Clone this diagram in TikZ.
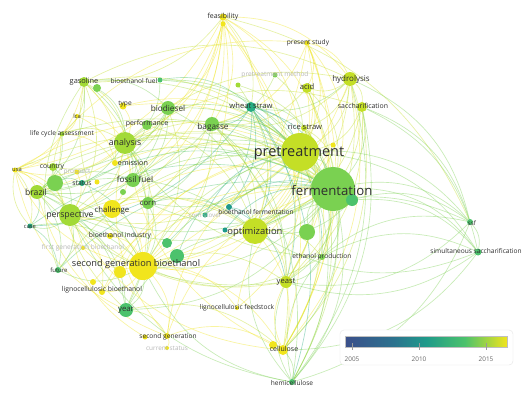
\documentclass[tikz,border=0pt]{standalone}
\usepackage{fontspec}
\setmainfont{Open Sans}
\usetikzlibrary{positioning}
\definecolor{vyel}{HTML}{F1E51D}
\definecolor{vlime}{HTML}{C4DF26}
\definecolor{vlgrn}{HTML}{A2DA37}
\definecolor{vgrn}{HTML}{7AD151}
\definecolor{vmgrn}{HTML}{4CC26C}
\definecolor{vteal}{HTML}{26AD81}
\definecolor{vdteal}{HTML}{1F9A8A}
\definecolor{vdark}{HTML}{3B4F8A}
\definecolor{vblue}{HTML}{2C728E}
\pgfdeclarehorizontalshading{viridisbar}{100bp}{color(0bp)=(vdark); color(25bp)=(vdark); color(40bp)=(vblue); color(50bp)=(vdteal); color(62bp)=(vmgrn); color(75bp)=(vyel); color(100bp)=(vyel)}
\pgfdeclarelayer{paper}
\pgfdeclarelayer{links}
\pgfsetlayers{paper,links,main}

\begin{document}
\begin{tikzpicture}[
  x=1pt, y=-1pt,
  kw/.style={circle, inner sep=0pt, minimum size=#1, draw=none},
  lbl/.style={inner sep=0pt, text=black!82, font=\fontsize{#1}{#1}\selectfont},
  dim/.style={text=black!28},
  link/.style={draw=#1, opacity=.42, line width=.65pt}
]
\begin{pgfonlayer}{paper}
\fill[white] (0,0) rectangle (524,396);
\end{pgfonlayer}
\useasboundingbox (0,0) rectangle (524,396);

% --- keyword circles -----------------------------------------------------
\node[kw=7pt,  fill=vyel]   (feas)      at (223,17)  {};
\node[kw=5pt,  fill=vyel]   (feasb)     at (223,24)  {};
\node[kw=5pt,  fill=vyel]   (pstudy)    at (307,43)  {};
\node[kw=5pt,  fill=vgrn]   (pmeth)     at (275,75)  {};
\node[kw=5pt,  fill=vlgrn]  (mnode)     at (238,85)  {};
\node[kw=14pt, fill=vlime]  (hydro)     at (350,79)  {};
\node[kw=10pt, fill=vlime]  (acid)      at (307,88)  {};
\node[kw=10pt, fill=vlime]  (sacch)     at (362,107) {};
\node[kw=10pt, fill=vlgrn]  (gasol)     at (84,82)   {};
\node[kw=8pt,  fill=vgrn]   (gasolb)    at (97,88)   {};
\node[kw=5pt,  fill=vmgrn]  (biofuel)   at (160,80)  {};
\node[kw=7pt,  fill=vyel]   (type)      at (123,106) {};
\node[kw=14pt, fill=vgrn]   (biodsl)    at (168,108) {};
\node[kw=4pt,  fill=vyel]   (lca)       at (77,116)  {};
\node[kw=10pt, fill=vgrn]   (perf)      at (147,125) {};
\node[kw=5pt,  fill=vlgrn]  (lcassess)  at (62,134)  {};
\node[kw=10pt, fill=vteal]  (wheat)     at (251,107) {};
\node[kw=14pt, fill=vgrn]   (bagasse)   at (212,124) {};
\node[kw=6pt,  fill=vlime]  (rice)      at (304,128) {};
\node[kw=22pt, fill=vlgrn]  (analysis)  at (125,143) {};
\node[kw=38pt, fill=vlime]  (pretr)     at (300,152) {};
\node[kw=5pt,  fill=vyel]   (pyel)      at (333,145) {};
\node[kw=44pt, fill=vgrn]   (ferm)      at (333,189) {};
\node[kw=12pt, fill=vmgrn]  (fermb)     at (352,200) {};
\node[kw=6pt,  fill=vyel]   (emission)  at (115,163) {};
\node[kw=5pt,  fill=vyel]   (usa)       at (15,170)  {};
\node[kw=8pt,  fill=vlgrn]  (country)   at (53,167)  {};
\node[kw=5pt,  fill=vyel]   (prospect)  at (77,172)  {};
\node[kw=6pt,  fill=vteal]  (status)    at (82,183)  {};
\node[kw=5pt,  fill=vyel]   (statb)     at (97,182)  {};
\node[kw=14pt, fill=vgrn]   (fossil)    at (133,180) {};
\node[kw=16pt, fill=vgrn]   (brazilb)   at (55,183)  {};
\node[kw=14pt, fill=vlgrn]  (brazil)    at (37,192)  {};
\node[kw=6pt,  fill=vgrn]   (fossb)     at (123,192) {};
\node[kw=12pt, fill=vgrn]   (corn)      at (148,203) {};
\node[kw=18pt, fill=vyel]   (challenge) at (112,209) {};
\node[kw=22pt, fill=vlgrn]  (persp)     at (70,215)  {};
\node[kw=5pt,  fill=vteal]  (case)      at (30,226)  {};
\node[kw=5pt,  fill=vteal]  (stover)    at (205,215) {};
\node[kw=6pt,  fill=vdteal] (biofer)    at (229,207) {};
\node[kw=5pt,  fill=vdteal] (mteal)     at (225,230) {};
\node[kw=26pt, fill=vlime]  (optim)     at (255,231) {};
\node[kw=16pt, fill=vgrn]   (optimb)    at (307,232) {};
\node[kw=6pt,  fill=vyel]   (bindus)    at (110,236) {};
\node[kw=10pt, fill=vmgrn]  (bindb)     at (167,243) {};
\node[kw=4pt,  fill=vyel]   (fgb)       at (83,248)  {};
\node[kw=14pt, fill=vmgrn]  (fgbb)      at (177,256) {};
\node[kw=28pt, fill=vyel]   (sgb)       at (143,266) {};
\node[kw=12pt, fill=vyel]   (sgbb)      at (120,272) {};
\node[kw=6pt,  fill=vgrn]   (ethprod)   at (322,257) {};
\node[kw=6pt,  fill=vmgrn]  (future)    at (58,270)  {};
\node[kw=6pt,  fill=vyel]   (lignob)    at (93,282)  {};
\node[kw=6pt,  fill=vyel]   (lignobio)  at (102,292) {};
\node[kw=12pt, fill=vlime]  (yeast)     at (286,282) {};
\node[kw=4pt,  fill=vyel]   (lignofeed) at (237,308) {};
\node[kw=14pt, fill=vmgrn]  (year)      at (126,310) {};
\node[kw=5pt,  fill=vyel]   (secgenb)   at (145,337) {};
\node[kw=6pt,  fill=vyel]   (secgen)    at (167,336) {};
\node[kw=4pt,  fill=vyel]   (curstat)   at (167,348) {};
\node[kw=8pt,  fill=vyel]   (cellb)     at (273,345) {};
\node[kw=10pt, fill=vyel]   (cellulose) at (283,350) {};
\node[kw=6pt,  fill=vmgrn]  (hemi)      at (292,382) {};
\node[kw=6pt,  fill=vmgrn]  (ssf)       at (470,222) {};
\node[kw=7pt,  fill=vmgrn]  (ssacch)    at (478,252) {};

% --- links ---------------------------------------------------------------
\begin{pgfonlayer}{links}
\foreach \a/\b/\c in {
  feas/analysis/vyel, feas/biodsl/vyel, feas/bagasse/vyel, feas/pretr/vyel, feas/ferm/vyel,
  feas/optim/vyel, feas/sgb/vyel, feas/hydro/vyel, feas/gasol/vlime, feas/persp/vyel,
  feas/wheat/vlime, feas/challenge/vyel, feas/ssf/vlime, feas/usa/vyel, feasb/brazil/vyel,
  feas/fossil/vyel, feas/corn/vyel, feasb/yeast/vyel, feasb/cellulose/vyel,
  pstudy/pretr/vyel, pstudy/ferm/vyel, pstudy/hydro/vyel, pstudy/acid/vyel, pstudy/bagasse/vyel,
  pstudy/optim/vyel, pstudy/sgb/vyel, pstudy/cellulose/vyel, pstudy/yeast/vyel,
  pmeth/pretr/vlgrn, pmeth/bagasse/vlgrn, mnode/ferm/vlgrn, mnode/optim/vlgrn,
  hydro/pretr/vlime, hydro/ferm/vlime, hydro/acid/vlime, hydro/sacch/vlime, hydro/wheat/vgrn,
  hydro/rice/vlime, hydro/bagasse/vlime, hydro/yeast/vlime, hydro/cellulose/vyel, hydro/sgb/vyel,
  hydro/optim/vlime, hydro/ssf/vgrn, hydro/hemi/vgrn, sacch/pretr/vlime, sacch/ferm/vgrn, sacch/ssf/vgrn,
  sacch/cellulose/vlime, sacch/hemi/vgrn, sacch/yeast/vlime, sacch/optim/vlime, sacch/ssacch/vgrn,
  acid/pretr/vlime, acid/ferm/vlime, acid/cellulose/vyel, acid/hemi/vlgrn,
  acid/optim/vyel, acid/bagasse/vlime, gasol/analysis/vlime, gasol/biodsl/vgrn, gasol/brazil/vgrn,
  gasol/persp/vlime, gasol/fossil/vgrn, gasol/emission/vyel, gasol/lcassess/vlime, gasol/usa/vyel,
  gasol/sgb/vlime, gasol/hydro/vlime, gasol/pretr/vlime, gasol/ferm/vlgrn,
  gasolb/analysis/vgrn, biofuel/analysis/vgrn, biofuel/wheat/vmgrn, biofuel/ferm/vgrn,
  biofuel/pretr/vgrn, type/analysis/vyel, type/ferm/vyel, type/pretr/vyel, biodsl/analysis/vgrn,
  biodsl/fossil/vgrn, biodsl/brazil/vgrn, biodsl/persp/vgrn, biodsl/sgb/vlime, biodsl/pretr/vgrn,
  biodsl/ferm/vgrn, biodsl/emission/vlime, biodsl/optim/vgrn, lca/lcassess/vyel, lca/emission/vyel, lca/analysis/vyel,
  perf/analysis/vgrn, perf/ferm/vgrn, perf/optim/vlime, lcassess/analysis/vlime, lcassess/emission/vyel,
  lcassess/brazil/vgrn, lcassess/usa/vyel, lcassess/pstudy/vyel, lcassess/ferm/vlgrn,
  wheat/ferm/vteal, wheat/pretr/vteal, wheat/biofer/vteal,
  wheat/stover/vteal, wheat/bagasse/vteal, wheat/rice/vgrn, wheat/yeast/vteal, wheat/optim/vteal,
  wheat/ethprod/vteal, wheat/hemi/vteal, wheat/case/vteal, bagasse/pretr/vgrn, bagasse/ferm/vgrn,
  bagasse/brazil/vgrn, bagasse/sgb/vlime, bagasse/optim/vlime, bagasse/yeast/vgrn, bagasse/corn/vgrn,
  bagasse/cellulose/vlime, bagasse/hemi/vgrn,
  rice/pretr/vlime, rice/ferm/vlime, rice/optim/vlime, rice/ethprod/vlime, rice/cellulose/vyel,
  rice/yeast/vlime, rice/hemi/vlgrn,
  analysis/pretr/vlime, analysis/ferm/vlime, analysis/sgb/vlime, analysis/persp/vlime, analysis/brazil/vgrn,
  analysis/usa/vyel, analysis/country/vlime, analysis/challenge/vyel, analysis/fossil/vgrn, analysis/corn/vgrn,
  analysis/year/vgrn, analysis/sacch/vlime, analysis/hydro/vlime,
  pretr/ferm/vgrn, pretr/optim/vlime, pretr/sgb/vlime, pretr/yeast/vlime,
  pretr/cellulose/vlime, pretr/hemi/vgrn, pretr/ethprod/vgrn, pretr/ssf/vgrn, pretr/ssacch/vgrn,
  pretr/corn/vgrn, pretr/persp/vlime, pretr/challenge/vyel, pretr/lignofeed/vyel, pyel/sgb/vyel,
  ferm/optim/vgrn, ferm/sgb/vgrn, ferm/yeast/vgrn, ferm/cellulose/vgrn, ferm/hemi/vgrn,
  ferm/ssf/vgrn, ferm/ssacch/vgrn, ferm/ethprod/vgrn, ferm/corn/vgrn, ferm/persp/vgrn,
  ferm/brazil/vgrn, ferm/year/vgrn, fermb/ssf/vgrn, fermb/ssacch/vgrn, fermb/optim/vgrn,
  usa/brazil/vyel, usa/country/vyel, usa/persp/vyel, usa/case/vlime, usa/fgb/vyel,
  usa/pretr/vyel, usa/ferm/vlime, year/usa/vyel, sgb/usa/vyel, future/gasol/vlgrn,
  persp/lcassess/vlime, case/usa/vlime, sgb/gasol/vlime, year/lcassess/vlime,
  country/brazil/vgrn, country/persp/vgrn, country/ferm/vlgrn, brazil/persp/vgrn, brazil/sgb/vgrn, brazil/case/vmgrn,
  brazil/future/vgrn, brazil/fossil/vgrn, brazil/year/vgrn, brazil/pretr/vlgrn, brazil/optim/vgrn,
  brazilb/ferm/vgrn, brazilb/status/vmgrn,
  status/sgb/vmgrn, status/ferm/vmgrn, prospect/persp/vyel, challenge/sgb/vyel, challenge/persp/vyel, challenge/corn/vlime,
  challenge/ferm/vyel, challenge/optim/vyel, fossil/ferm/vgrn, fossil/pretr/vgrn, emission/ferm/vyel,
  corn/sgb/vgrn, corn/optim/vgrn, corn/pretr/vgrn, persp/sgb/vlime, persp/case/vgrn, persp/future/vgrn,
  persp/year/vgrn, persp/lignobio/vyel, persp/pretr/vlime, persp/optim/vlime,
  case/future/vmgrn, case/sgb/vgrn, case/ferm/vmgrn, future/ferm/vmgrn, future/pretr/vlgrn,
  biofer/optim/vteal, biofer/ferm/vteal, biofer/yeast/vteal, stover/pretr/vteal, mteal/ferm/vteal, optim/sgb/vyel,
  optim/yeast/vlime, optim/ethprod/vlime, optim/cellulose/vyel, optim/ssf/vgrn, optimb/ferm/vgrn,
  bindus/sgb/vyel, bindb/ferm/vmgrn, fgbb/pretr/vmgrn, sgb/year/vgrn, sgb/lignobio/vyel,
  sgb/future/vgrn, sgb/secgen/vyel, sgb/lignofeed/vyel, sgb/cellulose/vyel, sgb/yeast/vlime,
  sgb/fgb/vyel, sgbb/pretr/vyel, lignob/ferm/vyel, lignobio/pretr/vyel, lignobio/ferm/vyel,
  lignofeed/ferm/vyel, year/pretr/vlgrn, year/optim/vgrn,
  ethprod/yeast/vgrn, ethprod/ssf/vgrn, ethprod/ssacch/vgrn, ethprod/sgb/vlgrn, ethprod/analysis/vlgrn,
  year/secgen/vlime, year/cellulose/vlime, secgen/curstat/vyel, secgen/cellulose/vyel,
  secgen/pretr/vyel, secgen/ferm/vyel, secgen/analysis/vyel, secgen/brazil/vyel, secgenb/persp/vyel,
  cellb/analysis/vyel, cellulose/hemi/vgrn, cellulose/persp/vyel, cellulose/yeast/vyel,
  yeast/persp/vlime, yeast/brazil/vlgrn, hemi/yeast/vgrn, hemi/ethprod/vgrn, hemi/optim/vgrn, hemi/persp/vgrn,
  hemi/sgb/vgrn, ssf/ssacch/vgrn, ssf/yeast/vgrn, ssacch/yeast/vgrn, ssacch/optim/vgrn,
  ssacch/cellulose/vgrn, ssf/hemi/vgrn}
  \draw[link=\c] (\a) to[bend left=26] (\b);
\end{pgfonlayer}

% --- labels --------------------------------------------------------------
\node[lbl=7]    (tfeas)      at (223,17)  {feasibility};
\node[lbl=6.6]  (tpstudy)    at (308,43)  {present study};
\node[lbl=6.6, dim] (tpmeth) at (275,75)  {pretreatment method};
\node[lbl=8]    (thydro)     at (351,79)  {hydrolysis};
\node[lbl=7.6]  (tacid)      at (307,87)  {acid};
\node[lbl=6.9]  (tsacch)     at (363,106) {saccharification};
\node[lbl=7.4]  (tgasol)     at (84,82)   {gasoline};
\node[lbl=6.6]  (tbiofuel)   at (134,81)  {bioethanol fuel};
\node[lbl=6.6]  (ttype)      at (125,104) {type};
\node[lbl=8.2]  (tbiodsl)    at (168,108) {biodiesel};
\node[lbl=5.8]  (tlca)       at (77,116)  {lca};
\node[lbl=7]    (tperf)      at (147,124) {performance};
\node[lbl=6.6]  (tlcassess)  at (62,134)  {life cycle assessment};
\node[lbl=7.6]  (twheat)     at (251,106) {wheat straw};
\node[lbl=8.2]  (tbagasse)   at (213,127) {bagasse};
\node[lbl=7.6]  (trice)      at (305,127) {rice straw};
\node[lbl=8.8]  (tanalysis)  at (125,143) {analysis};
\node[lbl=14.5] (tpretr)     at (299,153) {pretreatment};
\node[lbl=13.2] (tferm)      at (332,191) {fermentation};
\node[lbl=7.2]  (temission)  at (133,163) {emission};
\node[lbl=5.8]  (tusa)       at (17,170)  {usa};
\node[lbl=6.8]  (tcountry)   at (52,167)  {country};
\node[lbl=6.6, dim] (tprospect) at (77,172) {prospect};
\node[lbl=6.8]  (tstatus)    at (82,183)  {status};
\node[lbl=8.2]  (tfossil)    at (135,179) {fossil fuel};
\node[lbl=8.6]  (tbrazil)    at (36,192)  {brazil};
\node[lbl=7.8]  (tcorn)      at (148,203) {corn};
\node[lbl=7.8]  (tchallenge) at (112,210) {challenge};
\node[lbl=8.8]  (tpersp)     at (70,215)  {perspective};
\node[lbl=5.8]  (tcase)      at (30,227)  {case};
\node[lbl=6.2, dim] (tstover) at (205,215) {corn stover};
\node[lbl=6.6]  (tbiofer)    at (256,212) {bioethanol fermentation};
\node[lbl=9.4]  (toptim)     at (255,232) {optimization};
\node[lbl=6.8]  (tbindus)    at (120,236) {bioethanol industry};
\node[lbl=6.6, dim] (tfgb)   at (83,248)  {first generation bioethanol};
\node[lbl=9.2]  (tsgb)       at (136,264) {second generation bioethanol};
\node[lbl=6.6]  (tethprod)   at (322,257) {ethanol production};
\node[lbl=6]    (tfuture)    at (59,270)  {future};
\node[lbl=6.8]  (tlignobio)  at (102,290) {lignocellulosic bioethanol};
\node[lbl=7.6]  (tyeast)     at (286,282) {yeast};
\node[lbl=6.6]  (tlignofeed) at (237,308) {lignocellulosic feedstock};
\node[lbl=7.8]  (tyear)      at (126,310) {year};
\node[lbl=6.6]  (tsecgen)    at (168,337) {second generation};
\node[lbl=6.4, dim] (tcurstat) at (167,348) {current status};
\node[lbl=7]    (tcellulose) at (284,349) {cellulose};
\node[lbl=6.6]  (themi)      at (292,383) {hemicellulose};
\node[lbl=6.2]  (tssf)       at (472,223) {ssf};
\node[lbl=6.6]  (tssacch)    at (476,251) {simultaneous saccharification};

% --- colour legend -------------------------------------------------------
\node[draw=black!10, fill=white, rounded corners=4pt, minimum width=173pt, minimum height=35pt, inner sep=0pt] (legend) at (426.5,347.5) {};
\node[shading=viridisbar, draw=black!25, line width=.3pt, minimum width=162pt, minimum height=11pt, inner sep=0pt] (bar) at (426,342) {};
\foreach \yr/\px in {2005/352, 2010/419, 2015/486} {
  \draw[black!40, line width=.4pt] (\px,343) -- (\px,350);
  \node[lbl=6.4, text=black!60] (yr\yr) at (\px,359) {\yr};
}
\end{tikzpicture}
\end{document}
